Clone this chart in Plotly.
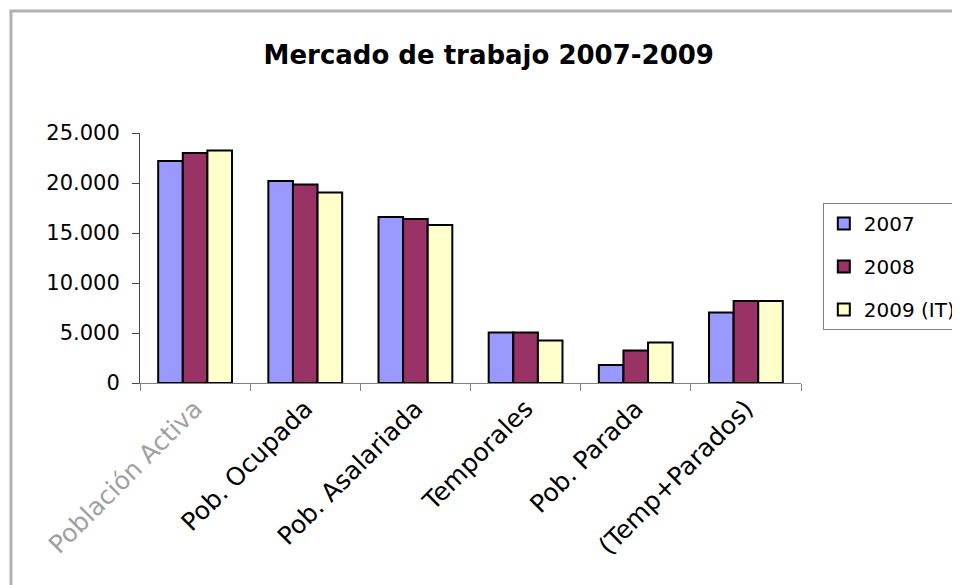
import plotly.graph_objects as go

FONT = "DejaVu Sans"

categories = [
    "<span style='color:#a0a0a0'>Población Activa</span>",
    "Pob. Ocupada",
    "Pob. Asalariada",
    "Temporales",
    "Pob. Parada",
    "(Temp+Parados)",
]
series_names = ["2007", "2008", "2009 (IT)"]
values_2007 = [22200, 20200, 16600, 5050, 1800, 7050]
values_2008 = [23000, 19850, 16400, 5050, 3250, 8200]
values_2009 = [23250, 19050, 15800, 4250, 4050, 8200]
y_ticks = [0, 5000, 10000, 15000, 20000, 25000]

colors = ["#9999FF", "#993366", "#FFFFCC"]

fig = go.Figure()
for name, vals, col in zip(series_names, [values_2007, values_2008, values_2009], colors):
    fig.add_trace(
        go.Bar(
            x=categories,
            y=vals,
            name=name,
            legendgroup=name,
            marker=dict(color=col, line=dict(color="black", width=2)),
        )
    )

# outer frame (only top/left edges visible in the reference), drawn as a rectangle
fig.add_shape(
    type="rect",
    xref="paper",
    yref="paper",
    x0=-0.1952,
    x1=1.3,
    y0=-0.9,
    y1=1.488,
    layer="above",
    line=dict(color="black", width=3),
    fillcolor="rgba(0,0,0,0)",
)

# page has an 8px body margin, so the figure is 952x577
fig.update_layout(
    width=952,
    height=577,
    template="simple_white",
    paper_bgcolor="white",
    plot_bgcolor="white",
    separators=",.",
    margin=dict(l=132, r=159, t=125, b=202, autoexpand=False),
    barmode="group",
    bargap=0.33,
    bargroupgap=0,
    font=dict(family=FONT, color="black", size=21),
    title=dict(
        text="<b>Mercado de trabajo 2007-2009</b>",
        x=0.505,
        xanchor="center",
        y=0.918,
        yanchor="middle",
        font=dict(family=FONT, size=26, color="black"),
    ),
    xaxis=dict(
        showline=True,
        linecolor="#808080",
        linewidth=1,
        ticks="outside",
        tickson="boundaries",
        ticklen=7,
        tickcolor="#808080",
        tickangle=-45,
        tickfont=dict(size=25, family=FONT, color="black"),
        automargin=False,
        showgrid=False,
    ),
    yaxis=dict(
        range=[0, 25000],
        tickvals=y_ticks,
        tickformat=",d",
        showline=True,
        linecolor="#444444",
        linewidth=1,
        ticks="outside",
        ticklen=7,
        tickcolor="#444444",
        ticklabelstandoff=8,
        tickfont=dict(size=21, family=FONT, color="black"),
        automargin=False,
        showgrid=False,
        zeroline=False,
    ),
    legend=dict(
        x=1.033,
        xanchor="left",
        y=0.72,
        yanchor="top",
        bordercolor="#808080",
        borderwidth=1,
        bgcolor="white",
        tracegroupgap=14,
        itemwidth=30,
        font=dict(size=20, family=FONT, color="black"),
    ),
    showlegend=True,
)

fig.write_html("out.html")
